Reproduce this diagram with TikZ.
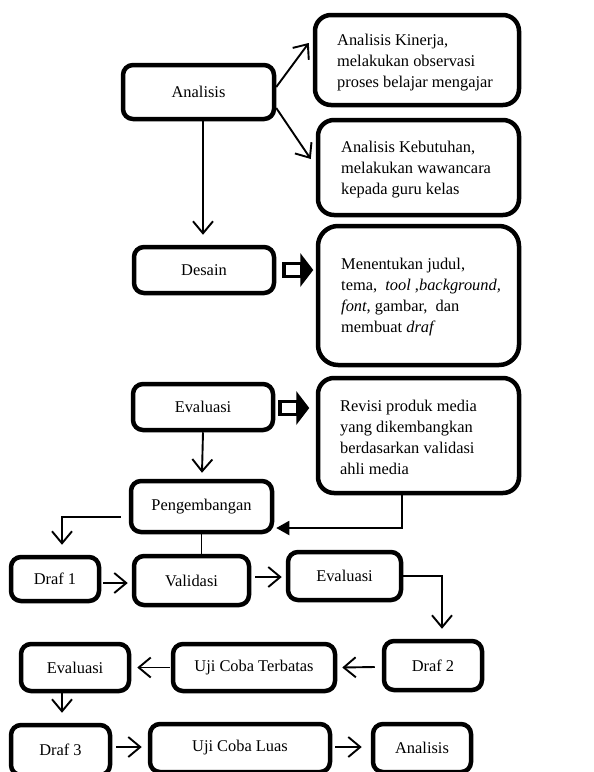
\documentclass[tikz,border=0pt]{standalone}
\usepackage{fontspec}
\setmainfont{Liberation Serif}
\usetikzlibrary{arrows.meta,calc}
\begin{document}
\begin{tikzpicture}[x=1pt,y=-1pt,
  box/.style={draw, line width=4.5pt, rounded corners=10pt, inner sep=0pt, font=\fontsize{16.4}{21}\selectfont},
  bigbox/.style={box, rounded corners=16pt},
  txt/.style={inner sep=0pt, align=left, anchor=west, font=\fontsize{16.4}{21}\selectfont},
  arr/.style={line width=1.9pt, -{Straight Barb[length=12pt,width=20pt]}},
  ln/.style={line width=1.9pt},
  blockarr/.pic={
    \draw[line width=3.5pt, fill=white] (1.75,-6.5) rectangle (19,6.5);
    \fill (18,-17) -- (31,0) -- (18,17) -- cycle;
  }]
\useasboundingbox (0,0) rectangle (594,772);
\clip (0,0) rectangle (594,772);

% boxes
\node[box, minimum width=151pt, minimum height=54pt] (ana) at (198.5,92) {Analisis};
\node[bigbox, minimum width=204pt, minimum height=90pt] (kin) at (417,60) {};
\node[txt] (kint) at (337,63) {Analisis Kinerja,\\melakukan observasi\\proses belajar mengajar};
\node[bigbox, minimum width=201pt, minimum height=95pt] (keb) at (418.5,167.5) {};
\node[txt] (kebt) at (341,170) {Analisis Kebutuhan,\\melakukan wawancara\\kepada guru kelas};
\node[box, minimum width=140pt, minimum height=46pt] (des) at (204,270) {Desain};
\node[bigbox, rounded corners=20pt, minimum width=201pt, minimum height=139pt] (dtx) at (418.5,295.5) {};
\node[txt] (dtxt) at (341,297) {Menentukan judul,\\tema,\ \ \textit{tool} ,\textit{background,}\\\textit{font}, gambar,\ \ dan\\membuat \textit{draf}};
\node[box, minimum width=140pt, minimum height=46pt] (eva) at (203,407) {Evaluasi};
\node[bigbox, minimum width=201pt, minimum height=115pt] (rev) at (418.5,435.5) {};
\node[txt] (revt) at (340,437) {Revisi produk media\\yang dikembangkan\\berdasarkan validasi\\ahli media};
\node[box, minimum width=141pt, minimum height=51pt] (pen) at (201.5,506.5) {Pengembangan};
\node[box, minimum width=88pt, minimum height=44pt] (d1) at (55,579) {Draf 1};
\node[box, minimum width=115pt, minimum height=49pt] (val) at (191.5,580.5) {Validasi};
\node[box, minimum width=113pt, minimum height=48pt] (ev2) at (344.5,576) {Evaluasi};
\node[box, minimum width=98pt, minimum height=49pt] (d2) at (433,665.5) {Draf 2};
\node[box, minimum width=162pt, minimum height=47pt] (ujt) at (254,667.5) {Uji Coba Terbatas};
\node[box, minimum width=108pt, minimum height=47pt] (ev3) at (75,667.5) {Evaluasi};
\node[box, minimum width=99pt, minimum height=50pt] (d3) at (60.5,750) {Draf 3};
\node[box, minimum width=180pt, minimum height=48pt] (ujl) at (240,748) {Uji Coba Luas};
\node[box, minimum width=98pt, minimum height=48pt] (an2) at (422,748) {Analisis};

% connectors
\draw[arr] ($(ana.east)+(0,-5)$) -- ($(kin.west)+(-4,-17)$);
\draw[arr] ($(ana.east)+(0,16)$) -- ($(keb.west)+(-5,-8.5)$);
\draw[arr] ($(ana.south)+(4.5,0)$) -- ($(des.north)+(-1,-10)$);
\pic at ($(des.east)+(6,0)$) {blockarr};
\pic at ($(eva.east)+(3,1)$) {blockarr};
\draw[arr] (eva.south) -- ($(pen.north)+(0.5,-6)$);
\draw[ln, -{Triangle[length=13pt,width=14pt]}] ($(rev.south)+(-16.5,0)$) |- ($(pen.east)+(2,21.5)$);
\draw[arr] ($(pen.west)+(-8,10.5)$) -| ($(d1.north)+(7,-10)$);
\draw[ln] (pen.south) -- (pen.south |- val.north);
\draw[arr] ($(d1.east)+(2,4)$) -- ($(val.west)+(-4,2.5)$);
\draw[arr] ($(val.east)+(4,-3.5)$) -- ($(ev2.west)+(-4,1)$);
\draw[arr] (ev2.east) -| ($(d2.north)+(9,-10)$);
\draw[arr] ($(d2.west)+(-7,1.5)$) -- ($(ujt.east)+(5,0)$);
\draw[arr] ($(ujt.west)+(-1,0)$) -- ($(ev3.east)+(6,0)$);
\draw[arr] ($(ev3.south)+(-13,0)$) -- ($(d3.north)+(1.5,-10)$);
\draw[arr] ($(d3.east)+(4,-3)$) -- ($(ujl.west)+(-6,-1)$);
\draw[arr] ($(ujl.east)+(3,-1)$) -- ($(an2.west)+(-9,-1)$);
\end{tikzpicture}
\end{document}
